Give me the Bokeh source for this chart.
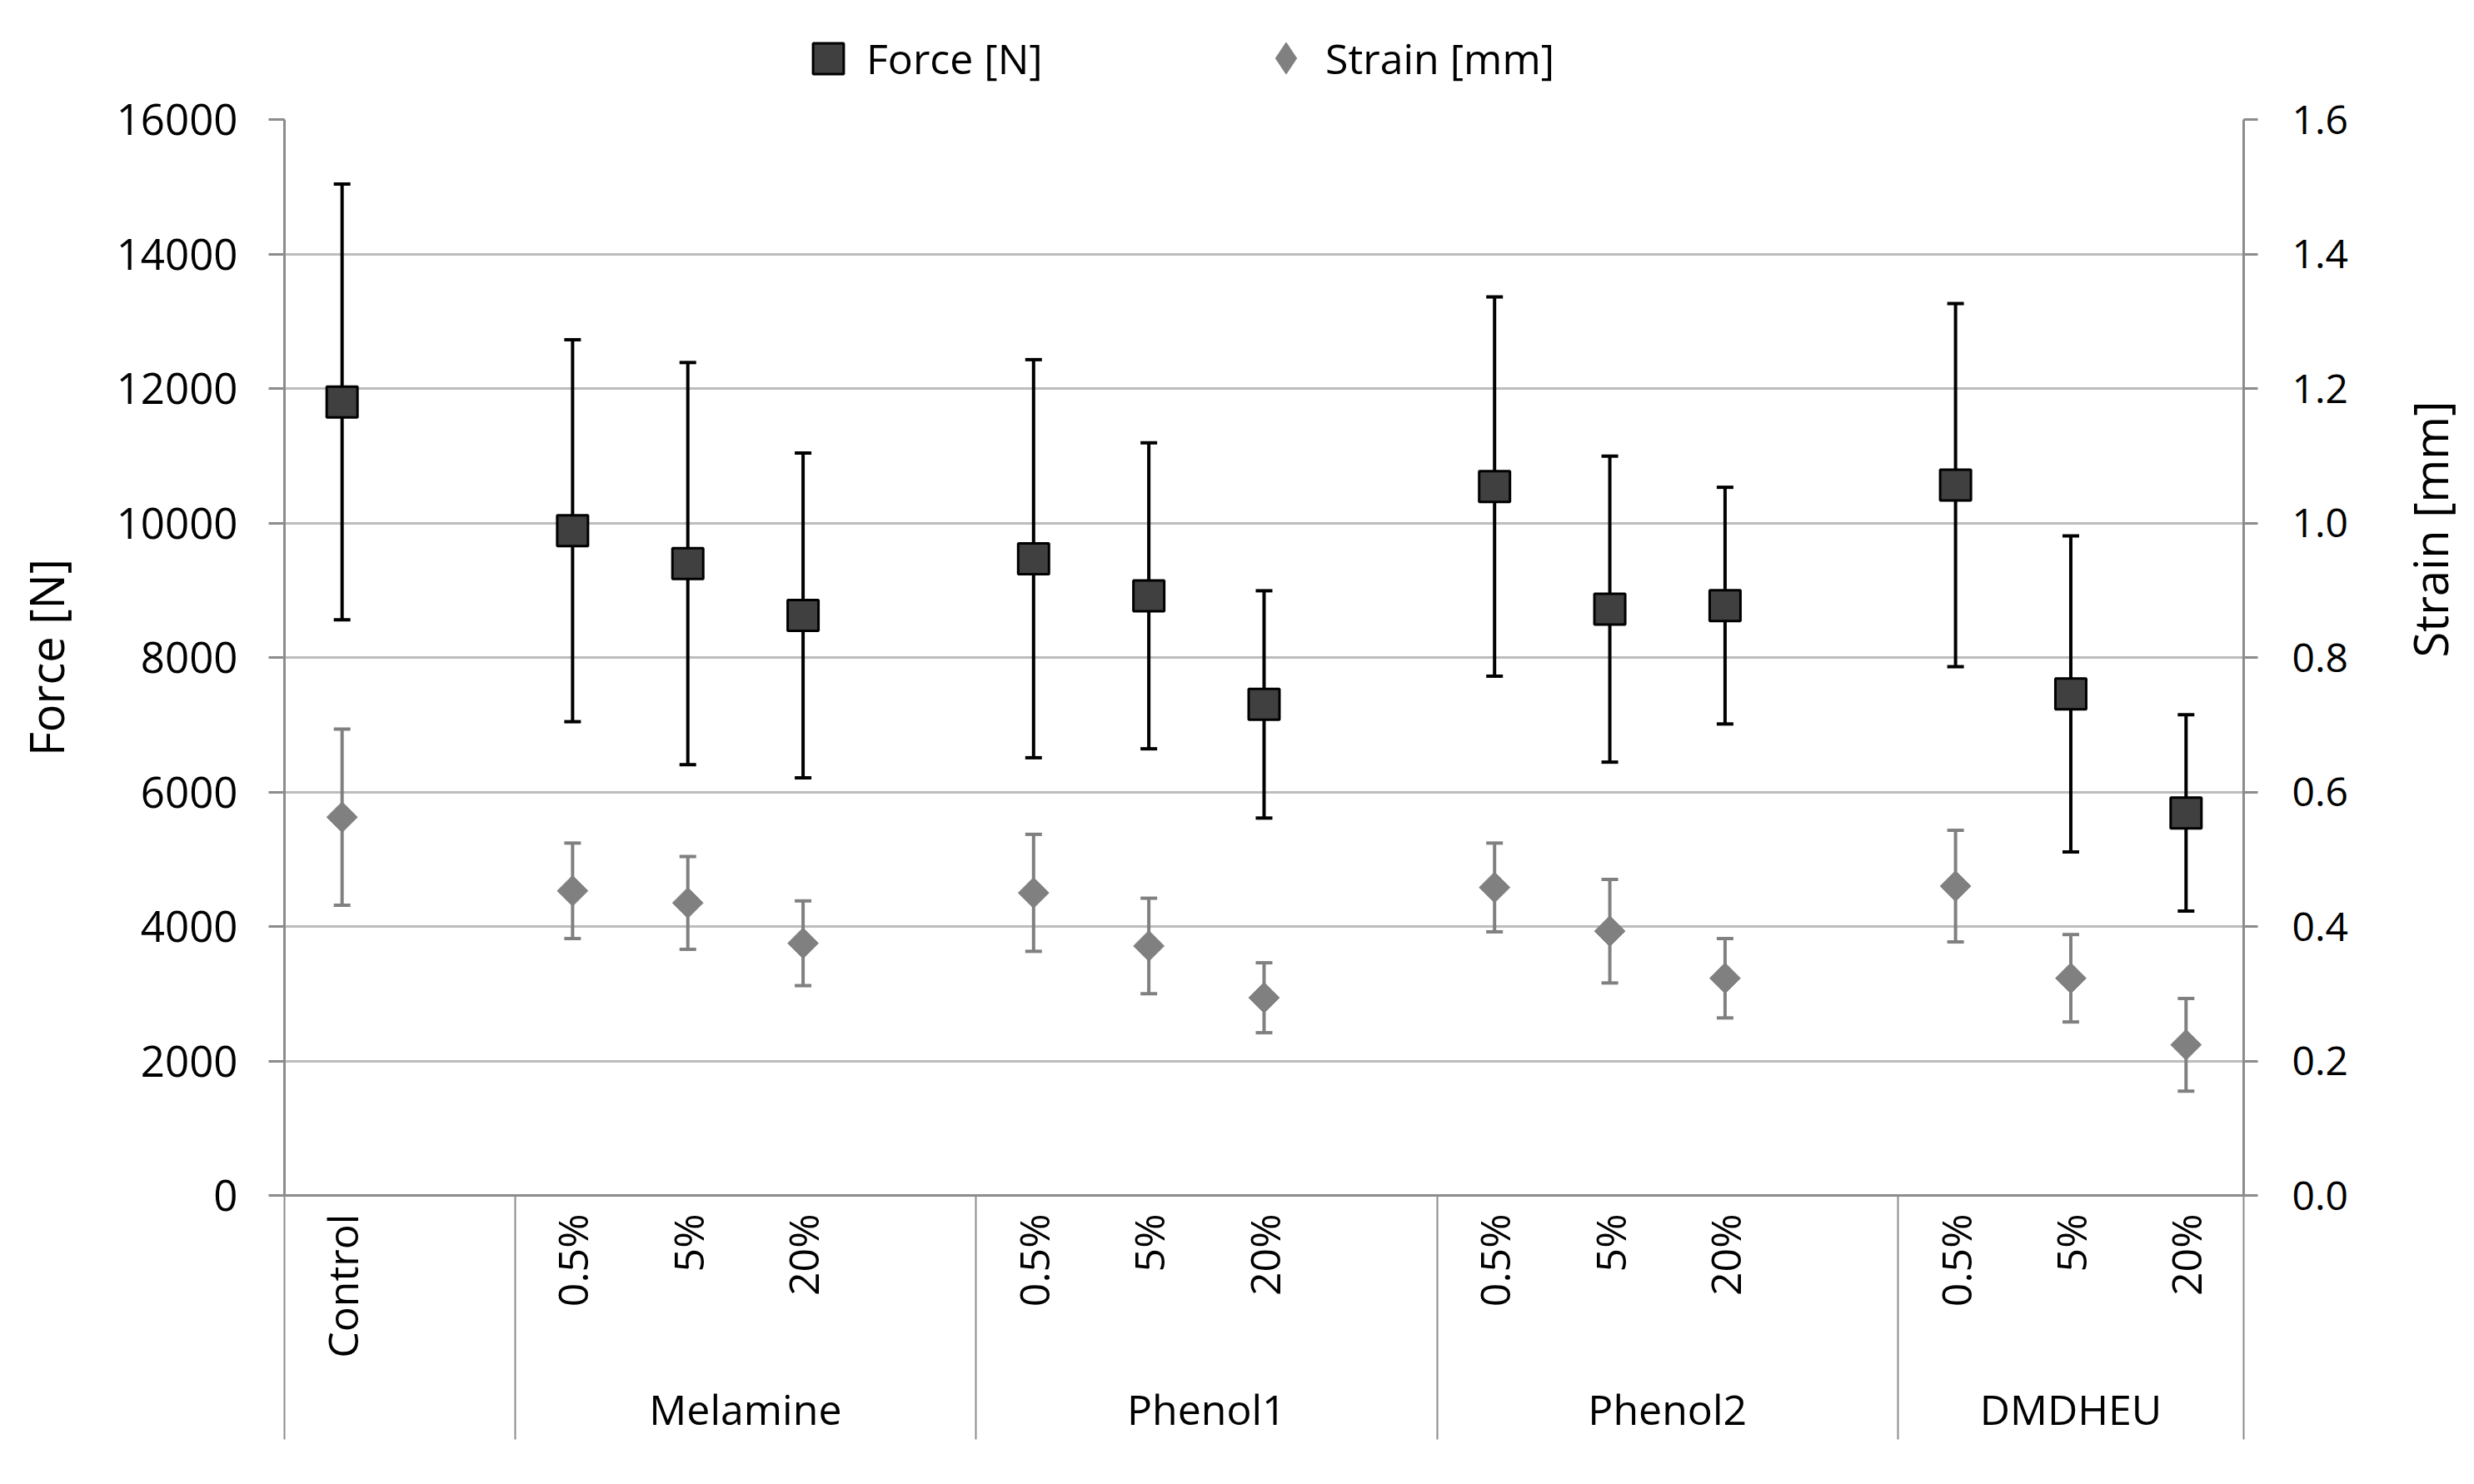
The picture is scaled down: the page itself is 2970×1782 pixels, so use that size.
import math
from bokeh.plotting import figure
from bokeh.layouts import column
from bokeh.models import (ColumnDataSource, Range1d, LinearAxis, FixedTicker, Whisker,
                          TeeHead, Legend, LegendItem, NumeralTickFormatter)
from bokeh.embed import file_html
from bokeh.resources import INLINE

# ---------------- data ----------------
groups = ["", "Melamine", "Phenol1", "Phenol2", "DMDHEU"]
group_levels = [["Control"],
                ["0.5%", "5%", "20%"],
                ["0.5%", "5%", "20%"],
                ["0.5%", "5%", "20%"],
                ["0.5%", "5%", "20%"]]

force_mean = [11800, 9885, 9396, 8625, 9469, 8917, 7302, 10542, 8719, 8771, 10563, 7458, 5688]
force_sd = [3240, 2840, 2990, 2415, 2960, 2275, 1690, 2820, 2275, 1760, 2700, 2350, 1460]

strain_mean = [0.5625, 0.453, 0.435, 0.375, 0.450, 0.371, 0.294, 0.458, 0.393, 0.323, 0.460, 0.323, 0.224]
strain_sd = [0.131, 0.071, 0.069, 0.063, 0.087, 0.071, 0.052, 0.066, 0.077, 0.059, 0.083, 0.065, 0.069]

force_ticks = [0, 2000, 4000, 6000, 8000, 10000, 12000, 14000, 16000]
strain_ticks = [0.0, 0.2, 0.4, 0.6, 0.8, 1.0, 1.2, 1.4, 1.6]

# ---------------- category slot layout ----------------
xs, labels, separators = [], [], [0]
group_centers, group_names = [], []
pos = 0
for gi, (g, levels) in enumerate(zip(groups, group_levels)):
    start = pos
    for lv in levels:
        xs.append(pos + 0.5)
        labels.append(lv)
        pos += 1
    if gi < len(groups) - 1:
        pos += 1
    separators.append(pos)
    if g:
        group_centers.append((start + pos) / 2)
        group_names.append(g)

FONT = "Open Sans"
AXIS_GREY = "#8c8c8c"
GRID_GREY = "#bdbdbd"
FORCE_FILL = "#404040"
STRAIN_FILL = "#808080"

src = ColumnDataSource(dict(
    x=xs,
    f=force_mean,
    f_lo=[m - s for m, s in zip(force_mean, force_sd)],
    f_hi=[m + s for m, s in zip(force_mean, force_sd)],
    s=strain_mean,
    s_lo=[m - s for m, s in zip(strain_mean, strain_sd)],
    s_hi=[m + s for m, s in zip(strain_mean, strain_sd)],
))

LEG_H = 104
p = figure(frame_width=2352, frame_height=1292,
           min_border_left=341, min_border_right=200,
           min_border_top=143 - LEG_H, min_border_bottom=310,
           x_range=Range1d(0, pos), y_range=Range1d(0, 16000),
           output_backend="svg", toolbar_location=None,
           background_fill_color="white", border_fill_color="white")
p.outline_line_color = None
p.extra_y_ranges = {"strain": Range1d(0, 1.6)}

# grid
p.xgrid.visible = False
p.ygrid.ticker = FixedTicker(ticks=force_ticks)
p.ygrid.grid_line_color = GRID_GREY
p.ygrid.grid_line_width = 3

# left axis
ly = p.yaxis[0]
ly.ticker = FixedTicker(ticks=force_ticks)
ly.formatter = NumeralTickFormatter(format="0")
ly.axis_label = "Force [N]"
ly.axis_label_text_font = FONT
ly.axis_label_text_font_size = "56px"
ly.axis_label_text_font_style = "normal"
ly.axis_label_text_color = "black"
ly.axis_label_standoff = 44
ly.major_label_text_font = FONT
ly.major_label_text_font_size = "51px"
ly.major_label_text_color = "black"
ly.major_label_standoff = 37
ly.axis_line_color = AXIS_GREY
ly.axis_line_width = 3
ly.major_tick_line_color = AXIS_GREY
ly.major_tick_line_width = 3
ly.major_tick_out = 19
ly.major_tick_in = 0
ly.minor_tick_line_color = None

# right axis
ry = LinearAxis(y_range_name="strain", ticker=FixedTicker(ticks=strain_ticks),
                formatter=NumeralTickFormatter(format="0.0"))
ry.axis_label = "Strain [mm]"
ry.axis_label_orientation = math.pi / 2
ry.axis_label_text_font = FONT
ry.axis_label_text_font_size = "56px"
ry.axis_label_text_font_style = "normal"
ry.axis_label_text_color = "black"
ry.axis_label_standoff = 95
ry.major_label_text_font = FONT
ry.major_label_text_font_size = "48px"
ry.major_label_text_color = "black"
ry.major_label_standoff = 41
ry.axis_line_color = AXIS_GREY
ry.axis_line_width = 3
ry.major_tick_line_color = AXIS_GREY
ry.major_tick_line_width = 3
ry.major_tick_out = 17
ry.major_tick_in = 0
ry.minor_tick_line_color = None
p.add_layout(ry, "right")

# bottom category axis (labels at categories, group separators as long minor ticks)
SEP_LEN = 293
bx = p.xaxis[0]
bx.ticker = FixedTicker(ticks=xs, minor_ticks=separators)
bx.major_label_overrides = {x: l for x, l in zip(xs, labels)}
bx.major_label_orientation = math.pi / 2
bx.major_label_text_font = FONT
bx.major_label_text_font_size = "50px"
bx.major_label_text_color = "black"
bx.major_label_standoff = 22 - SEP_LEN
bx.axis_line_color = AXIS_GREY
bx.axis_line_width = 3
bx.major_tick_line_color = None
bx.major_tick_out = 0
bx.major_tick_in = 0
bx.minor_tick_line_color = AXIS_GREY
bx.minor_tick_line_width = 2
bx.minor_tick_out = SEP_LEN
bx.minor_tick_in = 0

# group label axis
gx = LinearAxis(ticker=FixedTicker(ticks=group_centers))
gx.major_label_overrides = {c: n for c, n in zip(group_centers, group_names)}
gx.major_label_text_font = FONT
gx.major_label_text_font_size = "50px"
gx.major_label_text_color = "black"
gx.major_label_standoff = 18
gx.axis_line_color = None
gx.major_tick_line_color = None
gx.minor_tick_line_color = None
p.add_layout(gx, "below")

# error bars
wf = Whisker(base="x", lower="f_lo", upper="f_hi", source=src,
             line_color="black", line_width=4, level="underlay",
             upper_head=TeeHead(size=20, line_color="black", line_width=4),
             lower_head=TeeHead(size=20, line_color="black", line_width=4))
ws = Whisker(base="x", lower="s_lo", upper="s_hi", source=src, y_range_name="strain",
             line_color=STRAIN_FILL, line_width=4, level="underlay",
             upper_head=TeeHead(size=20, line_color=STRAIN_FILL, line_width=4),
             lower_head=TeeHead(size=20, line_color=STRAIN_FILL, line_width=4))
p.add_layout(wf)
p.add_layout(ws)

# markers
STRAIN_STYLE = dict(marker="square", angle=math.pi / 4, size=26,
                    fill_color=STRAIN_FILL, line_color=STRAIN_FILL)
FORCE_STYLE = dict(marker="square", size=37, fill_color=FORCE_FILL,
                   line_color="black", line_width=3)
p.scatter("x", "s", source=src, y_range_name="strain", **STRAIN_STYLE)
p.scatter("x", "f", source=src, **FORCE_STYLE)

# ---------------- legend strip above the chart ----------------
# The strip's y range lies outside all data, so its renderers only feed the legend keys.
lf = figure(width=2954, height=LEG_H, x_range=Range1d(0, pos), y_range=Range1d(-2, -1),
            output_backend="svg", toolbar_location=None, min_border=0,
            x_axis_location=None, y_axis_location=None,
            background_fill_color="white", border_fill_color="white")
lf.outline_line_color = None
lf.xgrid.visible = False
lf.ygrid.visible = False
lr_force = lf.scatter("x", "f", source=src, **FORCE_STYLE)
lr_strain = lf.scatter("x", "s", source=src, marker="diamond", size=38,
                       fill_color=STRAIN_FILL, line_color=STRAIN_FILL)

common = dict(padding=0, margin=0, border_line_color=None, background_fill_alpha=0,
              label_text_font=FONT, label_text_font_size="50px", label_text_color="black")
leg1 = Legend(items=[LegendItem(label="Force [N]", renderers=[lr_force], index=0)],
              location=(607, -12), glyph_width=92, glyph_height=92, label_standoff=0, **common)
leg2 = Legend(items=[LegendItem(label="Strain [mm]", renderers=[lr_strain], index=0)],
              location=(1155, -13), glyph_width=95, glyph_height=95, label_standoff=0, **common)
lf.add_layout(leg1)
lf.add_layout(leg2)

open("out.html", "w").write(file_html(column(lf, p), INLINE))
